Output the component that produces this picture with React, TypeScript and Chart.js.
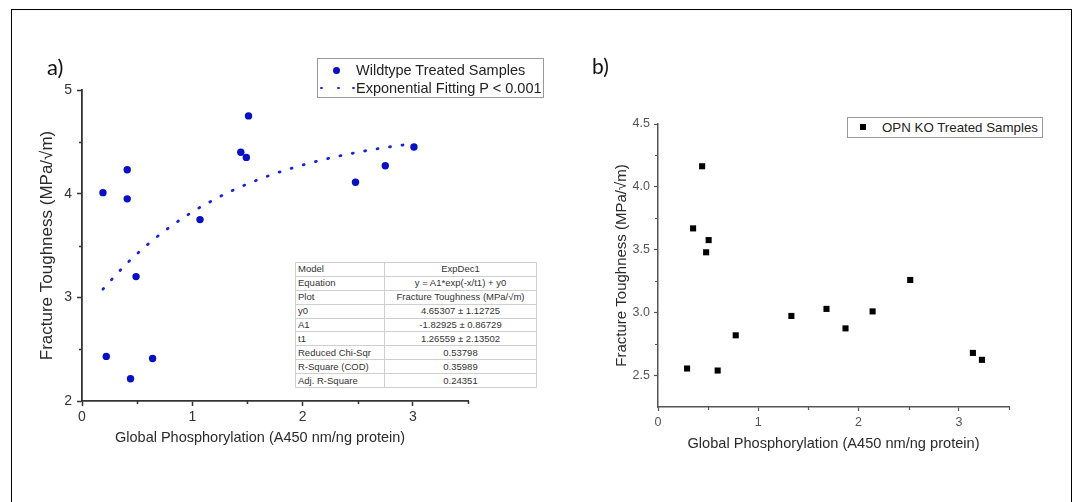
import React, { useEffect, useRef } from 'react';
import { Chart, registerables } from 'chart.js';

Chart.register(...registerables);

// ---------- data ----------
const wtX = [0.19, 0.41, 0.41, 0.49, 0.22, 0.64, 0.44, 1.07, 1.44, 1.49, 1.51, 2.48, 2.75, 3.01];
const wtY = [4.01, 4.23, 3.95, 3.2, 2.43, 2.41, 2.215, 3.75, 4.4, 4.35, 4.75, 4.11, 4.27, 4.45];

const fitX = [0.19, 0.4, 0.6, 0.8, 1.0, 1.2, 1.4, 1.6, 1.8, 2.0, 2.2, 2.4, 2.6, 2.8, 3.0];
const fitY = [3.079, 3.32, 3.514, 3.681, 3.823, 3.944, 4.048, 4.136, 4.212, 4.276, 4.331, 4.378, 4.419, 4.453, 4.482];

const koX = [0.29, 0.35, 0.44, 0.48, 0.505, 0.595, 0.775, 1.33, 1.68, 1.87, 2.14, 2.515, 3.14, 3.23];
const koY = [2.556, 3.67, 4.164, 3.48, 3.577, 2.54, 2.82, 2.974, 3.03, 2.875, 3.01, 3.26, 2.68, 2.625];

const aXMajor = [0, 1, 2, 3];
const aXMinor = [0.5, 1.5, 2.5, 3.5];
const aYMajor = [2, 3, 4, 5];
const aYMinor = [2.5, 3.5, 4.5];
const bXMajor = [0, 1, 2, 3];
const bXMinor = [0.5, 1.5, 2.5, 3.5];
const bYMajor = [2.5, 3.0, 3.5, 4.0, 4.5];
const bYMinor = [2.75, 3.25, 3.75, 4.25];

const tableRows: [string, string][] = [
  ['Model', 'ExpDec1'],
  ['Equation', 'y = A1*exp(-x/t1) + y0'],
  ['Plot', 'Fracture Toughness (MPa/\u221Am)'],
  ['y0', '4.65307 \u00B1 1.12725'],
  ['A1', '-1.82925 \u00B1 0.86729'],
  ['t1', '1.26559 \u00B1 2.13502'],
  ['Reduced Chi-Sqr', '0.53798'],
  ['R-Square (COD)', '0.35989'],
  ['Adj. R-Square', '0.24351'],
];

const wtLabel = 'Wildtype Treated Samples';
const fitLabel = 'Exponential Fitting P < 0.001';
const koLabel = 'OPN KO Treated Samples';
const xTitle = 'Global Phosphorylation (A450 nm/ng protein)';
const yTitle = 'Fracture Toughness (MPa/\u221Am)';

// ---------- styles ----------
const FONT = "'Liberation Sans', Arial, Helvetica, sans-serif";
const BLUE = '#0710c4';
const BLUE_FIT = '#1626d6';

const minorTicks = {
  id: 'minorTicks',
  afterDraw(chart: any, _args: any, opts: any) {
    const { ctx } = chart;
    const xs = chart.scales.x;
    const ys = chart.scales.y;
    ctx.save();
    ctx.strokeStyle = opts.color;
    ctx.lineWidth = opts.width;
    ctx.beginPath();
    (opts.x || []).forEach((v: number) => {
      const px = Math.round(xs.getPixelForValue(v)) + 0.5;
      ctx.moveTo(px, ys.bottom);
      ctx.lineTo(px, ys.bottom + opts.len);
    });
    (opts.y || []).forEach((v: number) => {
      const py = Math.round(ys.getPixelForValue(v)) + 0.5;
      ctx.moveTo(xs.left - opts.len, py);
      ctx.lineTo(xs.left, py);
    });
    ctx.stroke();
    ctx.restore();
  },
};

function ChartCanvas({ config, style }: { config: any; style: React.CSSProperties }) {
  const ref = useRef<HTMLCanvasElement | null>(null);
  useEffect(() => {
    if (!ref.current) return;
    const chart = new Chart(ref.current, config);
    return () => chart.destroy();
  }, []);
  return <canvas ref={ref} width={style.width as number} height={style.height as number} style={{ position: 'absolute', display: 'block', ...style }} />;
}

function makeConfig(p: any) {
  return {
    type: 'scatter',
    data: { datasets: p.datasets },
    options: {
      responsive: false,
      animation: false,
      events: [],
      layout: { padding: p.padding },
      plugins: {
        legend: { display: false },
        tooltip: { enabled: false },
        minorTicks: { x: p.xMinor, y: p.yMinor, len: p.minorLen, color: p.axisColor, width: p.tickWidth },
      },
      scales: {
        x: {
          type: 'linear',
          min: p.xRange[0],
          max: p.xRange[1],
          afterBuildTicks: (s: any) => {
            s.ticks = p.xMajor.map((v: number) => ({ value: v }));
          },
          afterFit: (s: any) => {
            s.height = 60;
          },
          grid: { display: true, drawOnChartArea: false, drawTicks: true, tickLength: p.majorLen, tickWidth: p.tickWidth, tickColor: p.axisColor },
          border: { display: true, color: p.axisColor, width: p.axisWidth },
          ticks: {
            padding: p.xPad,
            color: p.tickColor,
            font: { family: FONT, size: p.tickSize },
            autoSkip: false,
            maxRotation: 0,
            callback: (v: number) => p.fmt(v),
          },
          title: p.xTitle
            ? { display: true, text: xTitle, color: '#2a2a2a', font: { family: FONT, size: p.xTitleSize }, padding: { top: 0, bottom: p.xTitlePad } }
            : { display: false },
        },
        y: {
          type: 'linear',
          min: p.yRange[0],
          max: p.yRange[1],
          afterBuildTicks: (s: any) => {
            s.ticks = p.yMajor.map((v: number) => ({ value: v }));
          },
          afterFit: (s: any) => {
            s.width = p.yWidth;
          },
          grid: { display: true, drawOnChartArea: false, drawTicks: true, tickLength: p.majorLen, tickWidth: p.tickWidth, tickColor: p.axisColor },
          border: { display: true, color: p.axisColor, width: p.axisWidth },
          ticks: {
            padding: p.yPad,
            color: p.tickColor,
            font: { family: FONT, size: p.tickSize },
            autoSkip: false,
            callback: (v: number) => p.yFmt(v),
          },
          title: { display: true, text: yTitle, color: '#2a2a2a', font: { family: FONT, size: p.yTitleSize }, padding: { top: p.yTitlePad, bottom: 0 } },
        },
      },
    },
    plugins: [minorTicks],
  };
}

const configA = makeConfig({
  datasets: [
    {
      label: fitLabel,
      data: fitX.map((x, i) => ({ x, y: fitY[i] })),
      showLine: true,
      pointRadius: 0,
      borderColor: BLUE_FIT,
      borderWidth: 2.8,
      borderDash: [1, 11.6],
      borderCapStyle: 'round',
      cubicInterpolationMode: 'monotone',
      order: 2,
    },
    {
      label: wtLabel,
      data: wtX.map((x, i) => ({ x, y: wtY[i] })),
      pointStyle: 'circle',
      pointRadius: 3.7,
      backgroundColor: BLUE,
      borderColor: BLUE,
      borderWidth: 0,
      order: 1,
    },
  ],
  padding: { left: 0, top: 90, right: 12, bottom: 9 },
  xRange: [0, 3.5],
  yRange: [2, 5],
  xMajor: aXMajor,
  xMinor: aXMinor,
  yMajor: aYMajor,
  yMinor: aYMinor,
  majorLen: 5,
  minorLen: 3,
  axisColor: '#333',
  axisWidth: 1.8,
  tickWidth: 1.5,
  tickColor: '#333',
  tickSize: 14,
  xPad: 3,
  yPad: 5,
  fmt: (v: number) => String(v),
  yFmt: (v: number) => String(v),
  xTitle: false,
  yWidth: 82,
  yTitleSize: 17,
  yTitlePad: 36.8,
});

const configB = makeConfig({
  datasets: [
    {
      label: koLabel,
      data: koX.map((x, i) => ({ x, y: koY[i] })),
      pointStyle: 'rect',
      pointRadius: 4.3,
      backgroundColor: '#000',
      borderColor: '#000',
      borderWidth: 0,
    },
  ],
  padding: { left: 0, top: 124, right: 11, bottom: 3 },
  xRange: [0, 3.5],
  yRange: [2.25, 4.5],
  xMajor: bXMajor,
  xMinor: bXMinor,
  yMajor: bYMajor,
  yMinor: bYMinor,
  majorLen: 4,
  minorLen: 3,
  axisColor: '#555',
  axisWidth: 1.5,
  tickWidth: 1.2,
  tickColor: '#555',
  tickSize: 12.5,
  xPad: 4,
  yPad: 4,
  fmt: (v: number) => String(v),
  yFmt: (v: number) => v.toFixed(1),
  xTitle: true,
  xTitleSize: 14.6,
  xTitlePad: 14.2,
  yWidth: 98,
  yTitleSize: 15,
  yTitlePad: 53,
});

export default function App() {
  return (
    <div style={{ position: 'absolute', left: 0, top: 0, width: 1077, height: 502, overflow: 'hidden', background: '#fff', fontFamily: FONT }}>
      <div style={{ position: 'absolute', left: 11, top: 9, width: 1061, height: 600, borderLeft: '1.5px solid #000', borderTop: '1.5px solid #000', borderRight: '1.5px solid #000', boxSizing: 'border-box' }} />
      <ChartCanvas config={configA} style={{ left: 0, top: 0, width: 480, height: 470 }} />
      <ChartCanvas config={configB} style={{ left: 560, top: 0, width: 460, height: 470 }} />

      <div style={{ position: 'absolute', left: 47, top: 56, fontFamily: "Lato, 'Open Sans', sans-serif", fontSize: 22, lineHeight: '22px', color: '#111' }}>a)</div>
      <div style={{ position: 'absolute', left: 592, top: 55, fontFamily: "Lato, 'Open Sans', sans-serif", fontSize: 21, lineHeight: '21px', color: '#111' }}>b)</div>

      <div style={{ position: 'absolute', left: 115, top: 428, fontSize: 14.5, lineHeight: '18px', color: '#2a2a2a', whiteSpace: 'nowrap' }}>{xTitle}</div>

      {/* legend a */}
      <div style={{ position: 'absolute', left: 317, top: 58, width: 227, height: 40, border: '1px solid #999', boxSizing: 'border-box', background: '#fff' }}>
        <span style={{ position: 'absolute', left: 14.5, top: 7.5, width: 7.4, height: 7.4, borderRadius: '50%', background: BLUE }} />
        <div style={{ position: 'absolute', left: 38, top: 2, fontSize: 14.5, lineHeight: '18px', color: '#222', whiteSpace: 'nowrap' }}>{wtLabel}</div>
        {[2, 19, 34].map((l) => (
          <span key={l} style={{ position: 'absolute', left: l, top: 27.5, width: 3.2, height: 2.8, borderRadius: '50%', background: BLUE_FIT }} />
        ))}
        <div style={{ position: 'absolute', left: 38, top: 20, fontSize: 14.5, lineHeight: '18px', color: '#222', whiteSpace: 'nowrap' }}>{fitLabel}</div>
      </div>

      {/* fit parameter table */}
      <table style={{ position: 'absolute', left: 295, top: 262, width: 241, height: 125, borderCollapse: 'collapse', border: '1px solid #a8a8a8', fontFamily: FONT, fontSize: 9.5, color: '#333', tableLayout: 'fixed', background: '#fff' }}>
        <colgroup>
          <col style={{ width: 89 }} />
          <col style={{ width: 152 }} />
        </colgroup>
        <tbody>
          {tableRows.map(([k, v]) => (
            <tr key={k} style={{ height: 13.9 }}>
              <td style={{ border: '1px solid #cfcfcf', padding: '0 2px', lineHeight: '12px', whiteSpace: 'nowrap' }}>{k}</td>
              <td style={{ border: '1px solid #cfcfcf', padding: '0 2px', lineHeight: '12px', textAlign: 'center', whiteSpace: 'nowrap' }}>{v}</td>
            </tr>
          ))}
        </tbody>
      </table>

      {/* legend b */}
      <div style={{ position: 'absolute', left: 847, top: 117, width: 196, height: 21, border: '1px solid #999', boxSizing: 'border-box', background: '#fff' }}>
        <span style={{ position: 'absolute', left: 12, top: 6, width: 6, height: 6, background: '#000' }} />
        <div style={{ position: 'absolute', left: 34, top: 0, fontSize: 13.3, lineHeight: '19px', color: '#222', whiteSpace: 'nowrap' }}>{koLabel}</div>
      </div>
    </div>
  );
}
